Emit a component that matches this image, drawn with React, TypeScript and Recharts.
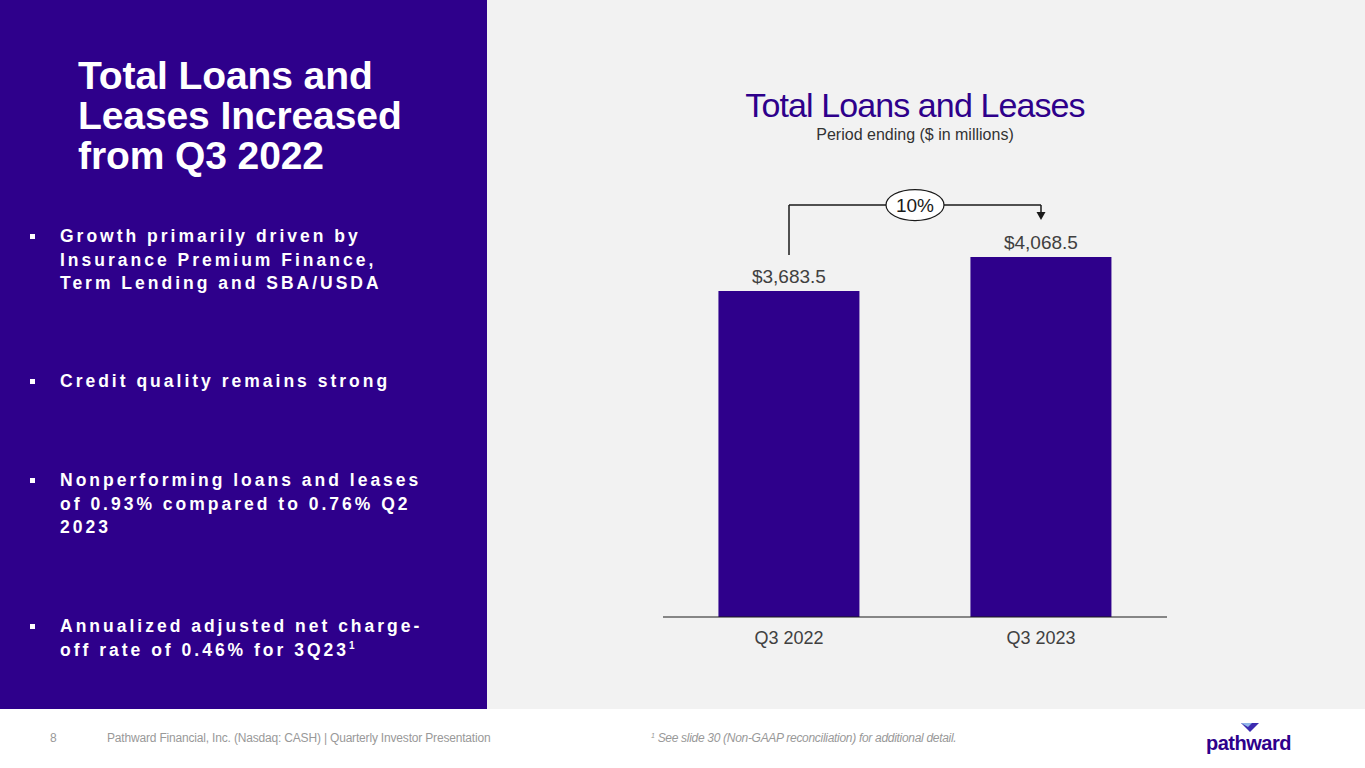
import { BarChart, Bar, XAxis, YAxis, LabelList, ReferenceLine } from "recharts";

const categories = ["Q3 2022", "Q3 2023"];
const loanValues = [3683.5, 4068.5];
const growthLabel = "10%";
const valueDomain = [0, 5000];

// bracket levels in data units (start above the first bar, arrow stops above the second)
const bracketLevel = 4655;
const bracketStart = 4090;
const arrowEnd = 4486;

const bullets = [
  ["Growth primarily driven by", "Insurance Premium Finance,", "Term Lending and SBA/USDA"],
  ["Credit quality remains strong"],
  ["Nonperforming loans and leases", "of 0.93% compared to 0.76% Q2", "2023"],
  ["Annualized adjusted net charge-", "off rate of 0.46% for 3Q23"],
];
const bulletTops = [225, 370, 469, 615];

const data = categories.map((name, i) => ({ name, value: loanValues[i] }));

const PURPLE = "#2E008B";
const FONT = "'Liberation Sans', Arial, sans-serif";

const fmt = (v: number) =>
  "$" + v.toLocaleString("en-US", { minimumFractionDigits: 1, maximumFractionDigits: 1 });

const BubbleLine = (p: any) => {
  const mx = (p.x1 + p.x2) / 2;
  return (
    <g>
      <line x1={p.x1} y1={p.y1} x2={p.x2} y2={p.y2} stroke="#1a1a1a" strokeWidth={1.5} />
      <ellipse cx={mx} cy={p.y1} rx={29} ry={15.5} fill="#fff" stroke="#1a1a1a" strokeWidth={1.2} />
      <text x={mx} y={p.y1} dy="0.36em" textAnchor="middle" fontSize={19} fontFamily={FONT} fill="#1a1a1a">
        {growthLabel}
      </text>
    </g>
  );
};

const ArrowLine = (p: any) => (
  <g>
    <line x1={p.x1} y1={p.y1} x2={p.x2} y2={p.y2 - 7} stroke="#1a1a1a" strokeWidth={1.5} />
    <path d={`M${p.x2 - 4.5},${p.y2 - 8} L${p.x2 + 4.5},${p.y2 - 8} L${p.x2},${p.y2} Z`} fill="#1a1a1a" />
  </g>
);

const PlainLine = (p: any) => (
  <line x1={p.x1} y1={p.y1} x2={p.x2} y2={p.y2} stroke="#1a1a1a" strokeWidth={1.5} />
);

export default function App() {
  return (
    <div style={{ position: "absolute", left: 0, top: 0, width: 1365, height: 768, background: "#fff", fontFamily: FONT, overflow: "hidden" }}>
      <div style={{ position: "absolute", left: 487, top: 0, width: 878, height: 709, background: "#F2F2F2" }} />
      <div style={{ position: "absolute", left: 0, top: 0, width: 487, height: 709, background: PURPLE }} />

      <div style={{ position: "absolute", left: 78, top: 56, color: "#fff", fontWeight: 700, fontSize: 39, lineHeight: "40px", letterSpacing: -0.1 }}>
        Total Loans and
        <br />
        Leases Increased
        <br />
        from Q3 2022
      </div>

      {bullets.map((lines, i) => (
        <div key={i} style={{ position: "absolute", left: 0, top: bulletTops[i], color: "#fff" }}>
          <div style={{ position: "absolute", left: 30, top: 9, width: 5, height: 5, background: "#fff" }} />
          <div style={{ position: "absolute", left: 60, top: 0, whiteSpace: "nowrap", fontWeight: 700, fontSize: 17.5, lineHeight: "23.5px", letterSpacing: 3 }}>
            {lines.map((l, j) => (
              <div key={j} style={{ height: 23.5 }}>
                {l}
                {i === 3 && j === 1 ? (
                  <span style={{ position: "relative", top: -7, fontSize: 10, letterSpacing: 0, lineHeight: 0 }}>1</span>
                ) : null}
              </div>
            ))}
          </div>
        </div>
      ))}

      <div style={{ position: "absolute", left: 615, width: 600, top: 86, textAlign: "center", color: PURPLE, fontSize: 34, letterSpacing: -0.9, lineHeight: "38px" }}>
        Total Loans and Leases
      </div>
      <div style={{ position: "absolute", left: 615, width: 600, top: 126, textAlign: "center", color: "#333", fontSize: 16 }}>
        Period ending ($ in millions)
      </div>

      <div style={{ position: "absolute", left: 600, top: 160 }}>
        <BarChart width={620} height={510} data={data} margin={{ top: 14.5, right: 53, left: 63, bottom: 0 }} barCategoryGap="22%">
          <YAxis hide domain={valueDomain} />
          <XAxis
            dataKey="name"
            height={53}
            axisLine={{ stroke: "#1a1a1a", strokeWidth: 1 }}
            tickLine={false}
            tickMargin={8}
            tick={{ fill: "#404040", fontSize: 18, fontFamily: FONT }}
          />
          <Bar dataKey="value" fill={PURPLE} isAnimationActive={false}>
            <LabelList dataKey="value" position="top" offset={8} formatter={(v: any) => fmt(Number(v))} style={{ fill: "#404040", fontSize: 19, fontFamily: FONT }} />
          </Bar>
          <ReferenceLine
            segment={[{ x: categories[0], y: bracketStart }, { x: categories[0], y: bracketLevel }]}
            shape={PlainLine}
            ifOverflow="visible"
          />
          <ReferenceLine
            segment={[{ x: categories[1], y: bracketLevel }, { x: categories[1], y: arrowEnd }]}
            shape={ArrowLine}
            ifOverflow="visible"
          />
          <ReferenceLine
            segment={[{ x: categories[0], y: bracketLevel }, { x: categories[1], y: bracketLevel }]}
            shape={BubbleLine}
            ifOverflow="visible"
          />
        </BarChart>
      </div>

      <div style={{ position: "absolute", left: 50, top: 731, color: "#999", fontSize: 12 }}>8</div>
      <div style={{ position: "absolute", left: 107, top: 731, color: "#999", fontSize: 12, letterSpacing: -0.18 }}>
        Pathward Financial, Inc. (Nasdaq: CASH) | Quarterly Investor Presentation
      </div>
      <div style={{ position: "absolute", left: 651, top: 731, color: "#999", fontSize: 12, fontStyle: "italic", letterSpacing: -0.3 }}>
        <span style={{ position: "relative", top: -4, fontSize: 7 }}>1</span> See slide 30 (Non-GAAP reconciliation) for additional detail.
      </div>

      <svg style={{ position: "absolute", left: 1239, top: 721 }} width={22} height={13}>
        <path d="M2,2 L20,2 L11,11 Z" fill="#3D2BB0" />
        <path d="M2,2 L13,2 L9,6 Z" fill="#8FB6E8" />
      </svg>
      <div style={{ position: "absolute", left: 1206, top: 732, color: PURPLE, fontSize: 20, fontWeight: 700, letterSpacing: -0.5 }}>
        pathward
      </div>
    </div>
  );
}
